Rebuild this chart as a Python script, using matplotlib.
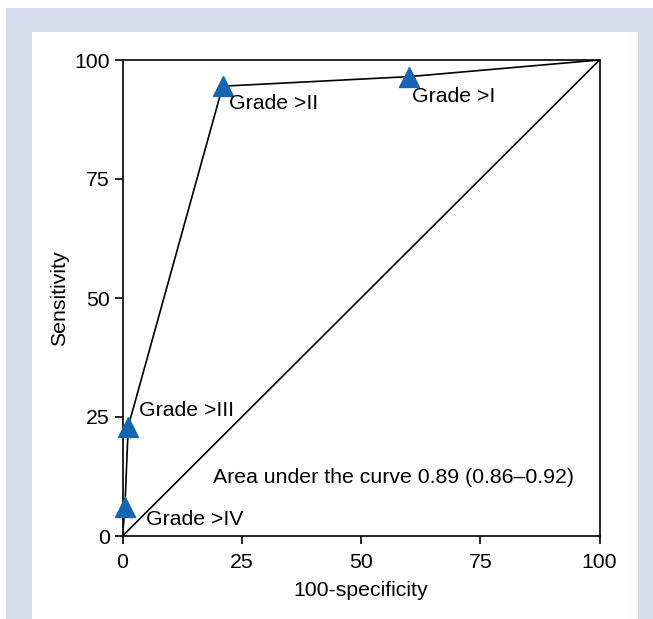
import matplotlib
matplotlib.use('Agg')
import matplotlib.pyplot as plt
from matplotlib.patches import Rectangle

plt.rcParams['font.family'] = ['Liberation Sans', 'DejaVu Sans']

# ROC points (100-specificity, sensitivity)
fpr = [0, 0.5, 1.2, 21, 60, 100]
tpr = [0, 6, 23, 94.5, 96.5, 100]
grade_x = [0.5, 1.2, 21, 60]
grade_y = [6, 23, 94.5, 96.5]
grade_lbl = ['Grade >IV', 'Grade >III', 'Grade >II', 'Grade >I']
lbl_pos = [(4.9, 3.4), (3.5, 26.3), (22.3, 90.8), (60.7, 92.4)]
ticks = [0, 25, 50, 75, 100]

W, H = 653, 619
fig = plt.figure(figsize=(W / 100, H / 100), dpi=100, facecolor='white')
fig.patches.append(Rectangle((6 / W, 0), 1 - 6 / W, 1 - 8 / H, transform=fig.transFigure,
                             facecolor='#d5dcee', edgecolor='none', zorder=-2))
fig.patches.append(Rectangle((32 / W, 0), (638 - 32) / W, 1 - 32 / H, transform=fig.transFigure,
                             facecolor='white', edgecolor='none', zorder=-1))

ax = fig.add_axes([122.5 / W, 1 - 536 / H, 477 / W, 476 / H])
ax.plot(fpr, tpr, color='black', lw=1.2, zorder=2)
ax.plot([0, 100], [0, 100], color='black', lw=1.2, zorder=2)
ax.plot(grade_x, grade_y, linestyle='none', marker='^', markersize=14,
        color='#1565b0', zorder=3, clip_on=False)
for t, (x, y) in zip(grade_lbl, lbl_pos):
    ax.text(x, y, t, fontsize=15.3, va='center', ha='left')
ax.text(19, 12.2, 'Area under the curve 0.89 (0.86\u20130.92)', fontsize=15.3, va='center', ha='left')

ax.set_xlim(0, 100)
ax.set_ylim(0, 100)
ax.set_xticks(ticks)
ax.set_yticks(ticks)
ax.tick_params(labelsize=15.3, length=6, width=1.2, direction='out')
ax.tick_params(axis='y', pad=3)
ax.tick_params(axis='x', pad=6)
for s in ax.spines.values():
    s.set_linewidth(1.2)
ax.set_xlabel('100-specificity', fontsize=15.3, labelpad=7)
ax.set_ylabel('Sensitivity', fontsize=15.3, labelpad=4)

fig.savefig('out.png', dpi=100, facecolor=fig.get_facecolor())
